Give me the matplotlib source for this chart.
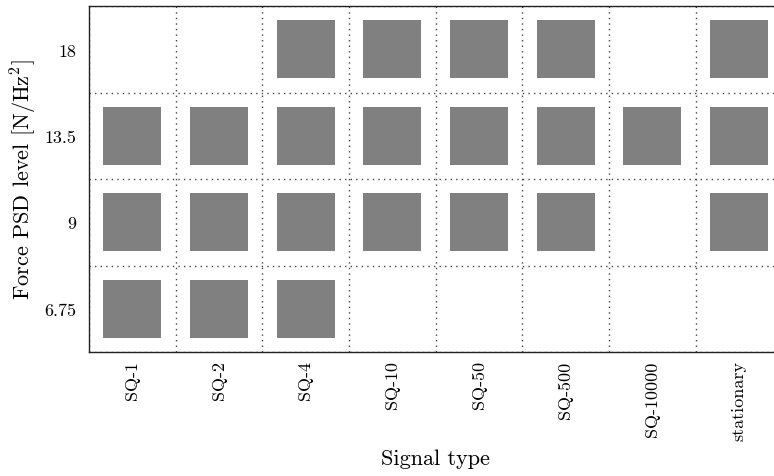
import numpy as np
import matplotlib
matplotlib.use("Agg")
import matplotlib.pyplot as plt

plt.rcParams["font.family"] = ["cmr10", "DejaVu Serif"]
plt.rcParams["mathtext.fontset"] = "cm"
plt.rcParams["axes.formatter.use_mathtext"] = True

signal_types = ["SQ-1", "SQ-2", "SQ-4", "SQ-10", "SQ-50", "SQ-500", "SQ-10000", "stationary"]
psd_levels = ["6.75", "9", "13.5", "18"]

# Test availability: rows follow psd_levels (bottom to top), columns follow signal_types
available = np.array([
    [1, 1, 1, 0, 0, 0, 0, 0],   # 6.75
    [1, 1, 1, 1, 1, 1, 0, 1],   # 9
    [1, 1, 1, 1, 1, 1, 1, 1],   # 13.5
    [0, 0, 1, 1, 1, 1, 0, 1],   # 18
])

fig = plt.figure(figsize=(7.74, 4.77), dpi=100)
ax = fig.add_axes([0.115, 0.26, 0.896, 0.725])

rows, cols = np.nonzero(available)
ax.scatter(cols, rows, marker="s", s=1750, color="#808080", linewidths=0, zorder=3)

ax.set_xlim(-0.5, len(signal_types) - 0.5)
ax.set_ylim(-0.5, len(psd_levels) - 0.5)

ax.set_xticks(np.arange(len(signal_types)))
ax.set_xticklabels(signal_types, rotation=90, va="top")
ax.set_yticks(np.arange(len(psd_levels)))
ax.set_yticklabels(psd_levels)
ax.set_xticks(np.arange(len(signal_types) + 1) - 0.5, minor=True)
ax.set_yticks(np.arange(len(psd_levels) + 1) - 0.5, minor=True)
ax.tick_params(which="both", length=0)
ax.tick_params(axis="x", pad=6, labelsize=13)
ax.tick_params(axis="y", pad=9, labelsize=13)
ax.grid(which="minor", linestyle=(0, (1, 3)), color="#444444", linewidth=1.0)
ax.grid(which="major", visible=False)

for sp in ax.spines.values():
    sp.set_color("#222222")
    sp.set_linewidth(1.0)

ax.set_xlabel("Signal type", fontsize=16, labelpad=6)
ax.set_ylabel(r"Force PSD level [N/Hz$^2$]", fontsize=16, labelpad=4)

fig.savefig("out.png", dpi=100)
